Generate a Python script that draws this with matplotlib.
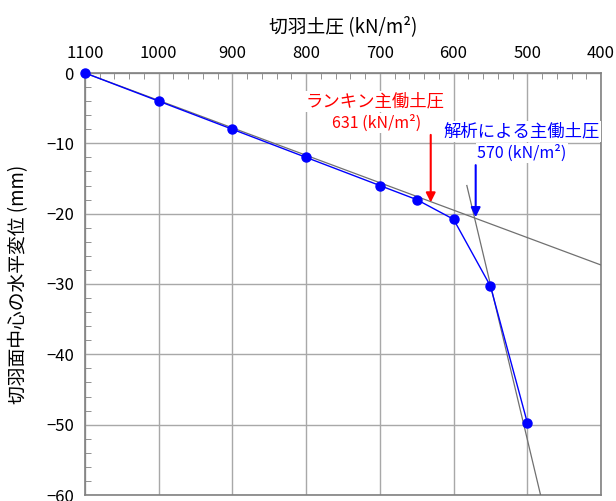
import matplotlib.pyplot as plt
from matplotlib.ticker import MultipleLocator

plt.rcParams["font.family"] = ["Noto Sans CJK JP", "DejaVu Sans"]

# measured data
pressure = [1100, 1000, 900, 800, 700, 650, 600, 550, 500]
displacement = [0, -4, -8, -12, -16, -18, -20.8, -30.3, -49.7]

# fitted straight lines (end points)
line1_x = [1100, 400]
line1_y = [0, -27.3]
line2_x = [582, 482]
line2_y = [-16, -60]

rankine_p = 631
analysis_p = 570

fig = plt.figure(figsize=(6.16, 5.01), dpi=100)
ax = fig.add_axes([85 / 616, 1 - 495 / 501, 516 / 616, 422 / 501])

ax.plot(line1_x, line1_y, color="#707070", linewidth=0.9, zorder=3)
ax.plot(line2_x, line2_y, color="#707070", linewidth=0.9, zorder=3)
ax.plot(pressure, displacement, color="blue", linewidth=1.0,
        marker="o", markersize=6.5, zorder=4, clip_on=False)

# arrows
ax.annotate("", xy=(rankine_p, -18.4), xytext=(rankine_p, -8.8),
            arrowprops=dict(arrowstyle="-|>", color="red", lw=1.5,
                            mutation_scale=14, shrinkA=0, shrinkB=0),
            zorder=5)
ax.annotate("", xy=(analysis_p, -20.5), xytext=(analysis_p, -13.1),
            arrowprops=dict(arrowstyle="-|>", color="blue", lw=1.5,
                            mutation_scale=14, shrinkA=0, shrinkB=0),
            zorder=5)

box = dict(facecolor="white", edgecolor="none", pad=1)
ax.text(706, -4.1, "ランキン主働土圧", color="red", fontsize=12.5,
        ha="center", va="center", bbox=box, zorder=6)
ax.text(705, -7.1, "631 (kN/m²)", color="red", fontsize=11.5,
        ha="center", va="center", bbox=box, zorder=6)
ax.text(508, -8.35, "解析による主働土圧", color="blue", fontsize=12.5,
        ha="center", va="center", bbox=box, zorder=6)
ax.text(507, -11.4, "570 (kN/m²)", color="blue", fontsize=11.5,
        ha="center", va="center", bbox=box, zorder=6)

ax.set_xlim(1100, 400)
ax.set_ylim(-60, 0)
ax.xaxis.set_major_locator(MultipleLocator(100))
ax.xaxis.set_minor_locator(MultipleLocator(20))
ax.yaxis.set_major_locator(MultipleLocator(10))
ax.yaxis.set_minor_locator(MultipleLocator(2))

ax.xaxis.tick_top()
ax.xaxis.set_label_position("top")
ax.tick_params(axis="both", which="both", direction="in", colors="#808080",
               labelcolor="black", labelsize=12)
ax.tick_params(axis="x", which="major", length=0, pad=8)
ax.tick_params(axis="x", which="minor", length=4)
ax.tick_params(axis="y", which="major", length=0, pad=8)
ax.tick_params(axis="y", which="minor", length=4)

ax.grid(True, which="major", color="#a8a8a8", linewidth=1.0)
for s in ax.spines.values():
    s.set_color("#808080")
    s.set_linewidth(1.2)

ax.set_xlabel("切羽土圧 (kN/m²)", fontsize=13.5, labelpad=9)
ax.set_ylabel("切羽面中心の水平変位 (mm)", fontsize=13.5, labelpad=12)

fig.savefig("out.png", dpi=100)
